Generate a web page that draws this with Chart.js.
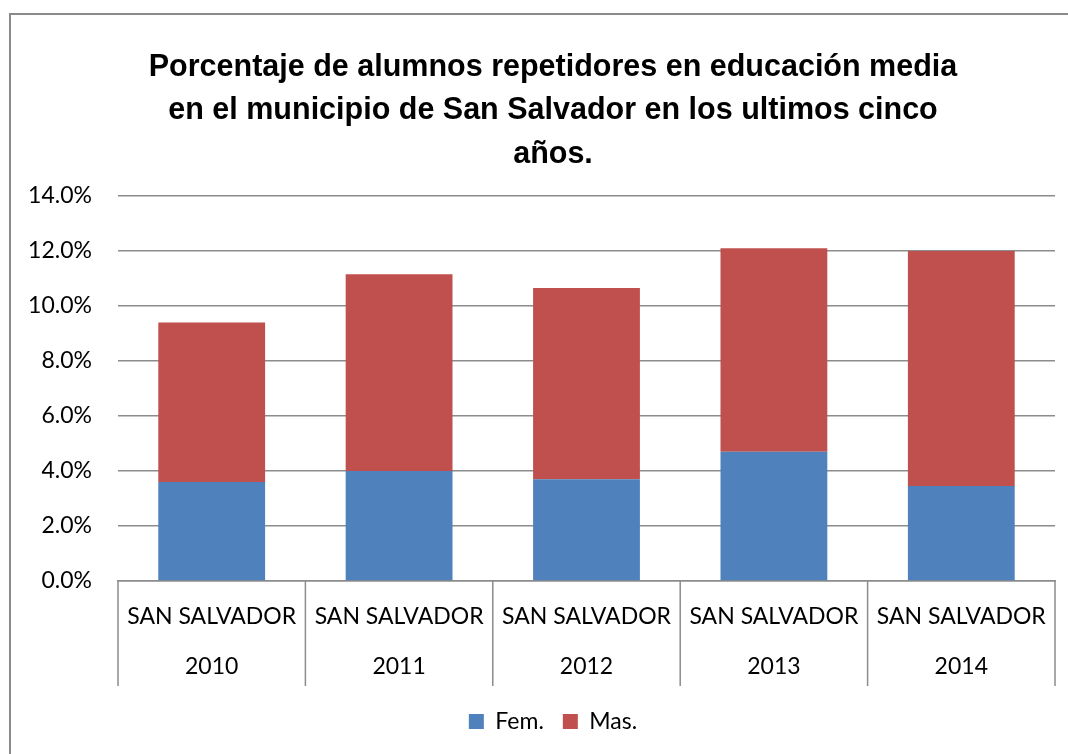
<!DOCTYPE html>
<html>
<head>
<meta charset="utf-8">
<script src="https://cdn.jsdelivr.net/npm/chart.js@4"></script>
<style>
  html, body { margin: 0; padding: 0; background: #fff; overflow: hidden; }
  #frame {
    position: absolute; left: 9px; top: 13px;
    width: 1200px; height: 900px;
    border: 2px solid #8a8a8a; box-sizing: border-box;
  }
  #wrap { position: absolute; left: 0; top: 0; width: 1068px; height: 754px; }
</style>
</head>
<body>
<div id="frame"></div>
<div id="wrap"><canvas id="repChart"></canvas></div>
<script>
// Chart data
const regions = ["SAN SALVADOR", "SAN SALVADOR", "SAN SALVADOR", "SAN SALVADOR", "SAN SALVADOR"];
const years = ["2010", "2011", "2012", "2013", "2014"];
const femValues = [3.6, 4.0, 3.7, 4.7, 3.45];
const masValues = [5.8, 7.15, 6.95, 7.4, 8.55];
const titleLines = [
    "Porcentaje de alumnos repetidores en educación media",
    "en el municipio de San Salvador en los ultimos cinco",
    "años."
];

const labels = years.map((y, i) => [regions[i], y]);
const gridGray = "#8c8c8c";
const tickFont = { family: "Lato, 'Open Sans', sans-serif", size: 23 };

// Draws the group separators under the category axis (Excel multi-level look)
const categoryDividers = {
    id: "categoryDividers",
    afterDraw(chart) {
        const xs = chart.scales.x;
        const ctx = chart.ctx;
        const n = xs.ticks.length;
        const top = chart.chartArea.bottom;
        ctx.save();
        ctx.strokeStyle = gridGray;
        ctx.lineWidth = 1.5;
        ctx.beginPath();
        for (let i = 0; i <= n; i++) {
            const x = xs.left + (xs.right - xs.left) * i / n;
            ctx.moveTo(x, top);
            ctx.lineTo(x, top + 105);
        }
        ctx.stroke();
        ctx.restore();
    },
};

new Chart(document.getElementById("repChart").getContext("2d"), {
    type: "bar",
    data: {
        labels: labels,
        datasets: [
            {
                label: "Fem.",
                data: femValues,
                backgroundColor: "#4F81BD",
                categoryPercentage: 1,
                barPercentage: 0.57,
            },
            {
                label: "Mas.",
                data: masValues,
                backgroundColor: "#C0504D",
                categoryPercentage: 1,
                barPercentage: 0.57,
            },
        ],
    },
    plugins: [categoryDividers],
    options: {
        responsive: true,
        maintainAspectRatio: false,
        animation: false,
        // the title/legend are centred a bit right of the plot, so the box runs past the right edge
        layout: { padding: { left: 28, right: -10, top: 46, bottom: 11 } },
        plugins: {
            title: {
                display: true,
                text: titleLines,
                color: "#000",
                font: { family: "'Liberation Sans', Arial, sans-serif", size: 30.5, weight: "bold", lineHeight: 1.42 },
                padding: { top: 0, bottom: 20 },
            },
            legend: {
                position: "bottom",
                labels: {
                    color: "#000",
                    font: tickFont,
                    boxWidth: 15,
                    boxHeight: 15,
                    padding: 19,
                },
            },
            tooltip: { enabled: false },
        },
        scales: {
            x: {
                stacked: true,
                afterFit: (scale) => { scale.height = 110; },
                grid: { display: false, drawTicks: false },
                border: { display: true, color: gridGray, width: 1.5 },
                ticks: {
                    color: "#000",
                    font: { ...tickFont, lineHeight: 2.2 },
                    padding: 10,
                    maxRotation: 0,
                    autoSkip: false,
                },
            },
            y: {
                stacked: true,
                min: 0,
                max: 14,
                afterFit: (scale) => { scale.width = 90; },
                grid: { color: gridGray, lineWidth: 1.5, drawTicks: false },
                border: { display: false },
                ticks: {
                    stepSize: 2,
                    color: "#000",
                    font: tickFont,
                    padding: 26,
                    callback: (v) => v.toFixed(1) + "%",
                },
            },
            // empty spacer on the right so the plot ends where the reference does
            spacer: {
                type: "linear",
                position: "right",
                afterFit: (scale) => { scale.width = 23; },
                grid: { display: false, drawTicks: false },
                border: { display: false },
                ticks: { display: false },
            },
        },
    },
});
</script>
</body>
</html>
